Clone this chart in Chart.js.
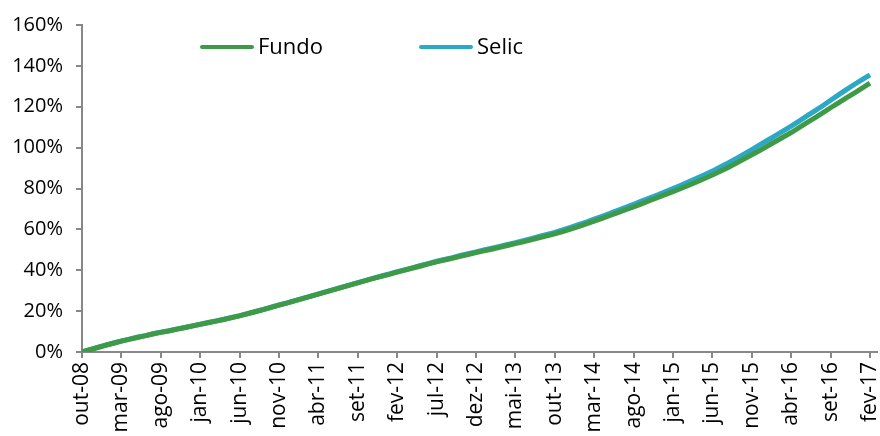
<!DOCTYPE html>
<html>
<head>
<meta charset="utf-8">
<script src="https://cdn.jsdelivr.net/npm/chart.js@4/dist/chart.umd.min.js"></script>
<style>
  html, body { margin: 0; padding: 0; background: #fff; }
  #wrap { width: 880px; height: 436px; position: relative; }
</style>
</head>
<body>
<div id="wrap"><canvas id="grafico"></canvas></div>
<script>
// Meses (pt-BR) usados para montar as categorias out-08 .. fev-17
const nomesMeses = ['jan', 'fev', 'mar', 'abr', 'mai', 'jun', 'jul', 'ago', 'set', 'out', 'nov', 'dez'];

const categorias = [];
for (let i = 0; i <= 100; i++) {
  const m = (9 + i) % 12;
  const a = 8 + Math.floor((9 + i) / 12);
  categorias.push(nomesMeses[m] + '-' + String(a).padStart(2, '0'));
}

// Retorno acumulado (%)
const fundo = [
  0, 1.1, 2.2, 3.3, 4.3, 5.3, 6.2, 7.1, 7.9, 8.8,
  9.6, 10.3, 11.1, 11.9, 12.7, 13.5, 14.3, 15.1, 15.9, 16.8,
  17.7, 18.7, 19.7, 20.7, 21.8, 22.9, 23.9, 25.0, 26.1, 27.2,
  28.3, 29.4, 30.5, 31.6, 32.7, 33.8, 34.9, 36.0, 37.0, 38.0,
  39.1, 40.1, 41.1, 42.1, 43.1, 44.1, 45.0, 45.9, 46.8, 47.7,
  48.6, 49.5, 50.3, 51.2, 52.1, 53.0, 53.9, 54.9, 55.9, 56.8,
  57.8, 58.9, 60.1, 61.4, 62.7, 64.0, 65.4, 66.8, 68.2, 69.6,
  71.0, 72.5, 74.0, 75.5, 77.0, 78.5, 80.0, 81.6, 83.2, 84.9,
  86.6, 88.4, 90.3, 92.3, 94.4, 96.5, 98.6, 100.8, 103.0, 105.2,
  107.4, 109.8, 112.2, 114.6, 117.0, 119.5, 121.9, 124.3, 126.7, 129.1,
  131.5
];

const selic = [
  0, 1.2, 2.3, 3.4, 4.4, 5.4, 6.3, 7.2, 8.0, 8.9,
  9.7, 10.4, 11.2, 12.0, 12.8, 13.6, 14.4, 15.2, 16.0, 16.9,
  17.8, 18.8, 19.8, 20.8, 21.9, 23.0, 24.0, 25.1, 26.2, 27.3,
  28.4, 29.5, 30.6, 31.7, 32.8, 33.9, 35.0, 36.1, 37.2, 38.2,
  39.3, 40.3, 41.3, 42.4, 43.4, 44.4, 45.3, 46.2, 47.2, 48.1,
  49.0, 49.9, 50.8, 51.7, 52.6, 53.5, 54.5, 55.5, 56.5, 57.5,
  58.5, 59.7, 61.0, 62.3, 63.6, 65.0, 66.4, 67.8, 69.3, 70.8,
  72.3, 73.8, 75.3, 76.8, 78.4, 80.0, 81.6, 83.3, 85.0, 86.7,
  88.5, 90.5, 92.5, 94.6, 96.8, 99.0, 101.3, 103.6, 105.9, 108.2,
  110.5, 113.0, 115.5, 118.0, 120.5, 123.2, 125.8, 128.4, 130.9, 133.3,
  135.6
];

const corFundo = '#3f9a48';
const corSelic = '#2ba8c6';
const corEixo = '#888';
const fonte = '"Open Sans", Lato, sans-serif';

// Legenda desenhada dentro da área do gráfico + prolongamento do eixo x
const legendaInterna = {
  id: 'legendaInterna',
  afterDraw(chart) {
    const ctx = chart.ctx;
    const area = chart.chartArea;
    ctx.save();
    // o eixo x do original passa um pouco do último mês
    ctx.strokeStyle = corEixo;
    ctx.lineWidth = 2;
    ctx.beginPath();
    ctx.moveTo(area.right, area.bottom);
    ctx.lineTo(area.right + 8, area.bottom);
    ctx.stroke();

    const itens = [
      { x: 200, ds: chart.data.datasets[0] },
      { x: 419, ds: chart.data.datasets[1] }
    ];
    const y = 47;
    itens.forEach(item => {
      ctx.strokeStyle = item.ds.borderColor;
      ctx.lineWidth = 4;
      ctx.lineCap = 'round';
      ctx.beginPath();
      ctx.moveTo(item.x + 2, y);
      ctx.lineTo(item.x + 52, y);
      ctx.stroke();
      ctx.fillStyle = '#000';
      ctx.font = '22px ' + fonte;
      ctx.textBaseline = 'middle';
      ctx.fillText(item.ds.label, item.x + 58, y + 1);
    });
    ctx.restore();
  }
};

const ctx = document.getElementById('grafico').getContext('2d');
new Chart(ctx, {
  type: 'line',
  data: {
    labels: categorias,
    datasets: [
      { label: 'Fundo', data: fundo, borderColor: corFundo, backgroundColor: corFundo, borderWidth: 5, pointRadius: 0, tension: 0 },
      { label: 'Selic', data: selic, borderColor: corSelic, backgroundColor: corSelic, borderWidth: 5, pointRadius: 0, tension: 0 }
    ]
  },
  options: {
    responsive: true,
    maintainAspectRatio: false,
    animation: false,
    layout: {
      padding: { top: 23, right: 10, left: 0, bottom: 0 }
    },
    plugins: {
      legend: { display: false },
      tooltip: { enabled: false }
    },
    scales: {
      x: {
        afterFit: function(escala) {
          escala.height = 84;
          escala.paddingLeft = 0;
          escala.paddingRight = 0;
        },
        border: { display: true, color: corEixo, width: 2 },
        grid: {
          drawOnChartArea: false,
          drawTicks: true,
          tickLength: 6,
          color: function(c) { return c.index % 5 === 0 ? corEixo : 'rgba(0,0,0,0)'; },
          lineWidth: 2
        },
        ticks: {
          autoSkip: false,
          maxRotation: 90,
          minRotation: 90,
          padding: 4,
          color: '#000',
          font: { family: fonte, size: 21 },
          callback: function(valor, indice) {
            return indice % 5 === 0 ? this.getLabelForValue(valor) : '';
          }
        }
      },
      y: {
        min: 0,
        max: 160,
        afterFit: function(escala) { escala.width = 82; },
        border: { display: true, color: corEixo, width: 2 },
        grid: {
          drawOnChartArea: false,
          drawTicks: true,
          tickLength: 6,
          color: corEixo,
          lineWidth: 2
        },
        ticks: {
          stepSize: 20,
          padding: 13,
          color: '#000',
          font: { family: fonte, size: 20 },
          callback: function(valor) { return valor + '%'; }
        }
      }
    }
  },
  plugins: [legendaInterna]
});
</script>
</body>
</html>
